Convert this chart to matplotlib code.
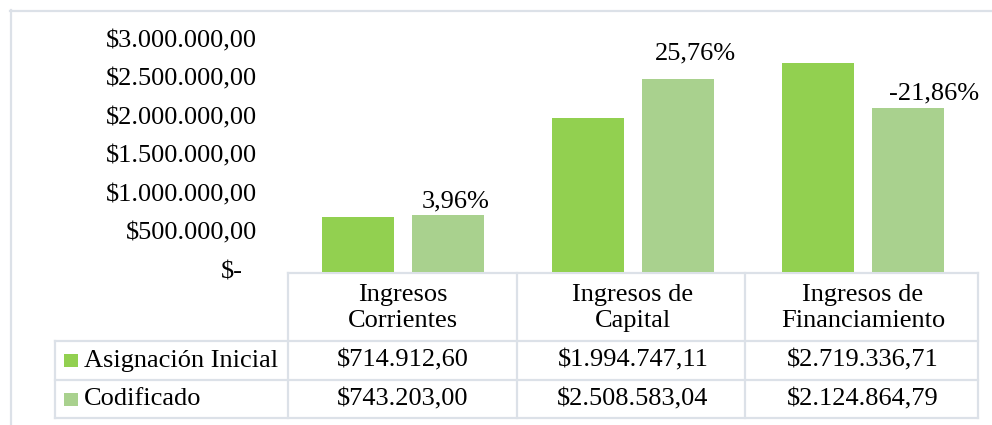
import matplotlib
matplotlib.use("Agg")
import matplotlib.pyplot as plt
import matplotlib.transforms as mtransforms
import numpy as np

# datos
categorias = ["Ingresos\nCorrientes", "Ingresos de\nCapital", "Ingresos de\nFinanciamiento"]
series = ["Asignación Inicial", "Codificado"]
asignacion_inicial = [714912.60, 1994747.11, 2719336.71]
codificado = [743203.00, 2508583.04, 2124864.79]
etiquetas_pct = ["3,96%", "25,76%", "-21,86%"]
y_ticks = [0, 500000, 1000000, 1500000, 2000000, 2500000, 3000000]

colores = ["#92D050", "#A9D18E"]
linea = "#DCE1E8"
FS = 19
W, H = 992, 425

plt.rcParams["font.family"] = ["Liberation Serif", "DejaVu Serif"]


def moneda(v):
    if v == 0:
        return "$-"
    s = f"{v:,.2f}"
    return "$" + s.replace(",", "X").replace(".", ",").replace("X", ".")


fig = plt.figure(figsize=(W / 100, H / 100), dpi=100)

# capa para tabla y marco (coordenadas en pixeles)
ax_t = fig.add_axes([0, 0, 1, 1])
ax_t.set_xlim(0, W)
ax_t.set_ylim(H, 0)
ax_t.axis("off")

# area de barras
px_l, px_r, px_top, px_bot = 288, 978, 41, 272
ax = fig.add_axes([px_l / W, (H - px_bot) / H, (px_r - px_l) / W, (px_bot - px_top) / H])
ax.set_zorder(2)
ax.patch.set_alpha(0)

x = np.arange(len(categorias))
ancho = 0.314
desp = 0.196
ax.bar(x - desp, asignacion_inicial, ancho, color=colores[0])
barras_c = ax.bar(x + desp, codificado, ancho, color=colores[1])

ax.set_xlim(-0.5, len(categorias) - 0.5)
ax.set_ylim(0, 3000000)
for s in ax.spines.values():
    s.set_visible(False)
ax.set_xticks([])
ax.set_yticks([])

# etiquetas del eje y
for v in y_ticks:
    dx = -31 if v else -45
    ax.annotate(moneda(v), xy=(0, v), xycoords=("axes fraction", "data"),
                xytext=(dx * 0.72, 0), textcoords="offset points",
                ha="right", va="center", fontsize=FS)

# etiquetas de porcentaje
offs = [(8, 7), (17, 19), (26, 9)]
for b, t, (ox, oy) in zip(barras_c, etiquetas_pct, offs):
    ax.annotate(t, xy=(b.get_x() + b.get_width() / 2, b.get_height()),
                xytext=(ox * 0.72, oy * 0.72), textcoords="offset points",
                ha="center", va="baseline", fontsize=FS)

# tabla de datos
tr = mtransforms.blended_transform_factory(ax.transData, ax_t.transData)
y_head, y_r1, y_r2, y_fin = 273, 341, 380, 418
leg_l = 55
lw = 1.6

ax_t.plot([px_l, px_r], [y_head, y_head], color=linea, lw=lw)
for yy in (y_r1, y_r2, y_fin):
    ax_t.plot([leg_l, px_r], [yy, yy], color=linea, lw=lw)
ax_t.plot([leg_l, leg_l], [y_r1, y_fin], color=linea, lw=lw)
for xx in (px_l, 517, 745, px_r):
    ax_t.plot([xx, xx], [y_head, y_fin], color=linea, lw=lw)

for i, cat in enumerate(categorias):
    ax_t.text(i, (y_head + y_r1) / 2 + 1, cat, transform=tr, ha="center", va="center",
              fontsize=FS, linespacing=1.25)
    ax_t.text(i, (y_r1 + y_r2) / 2, moneda(asignacion_inicial[i]), transform=tr,
              ha="center", va="center", fontsize=FS)
    ax_t.text(i, (y_r2 + y_fin) / 2, moneda(codificado[i]), transform=tr,
              ha="center", va="center", fontsize=FS)

# leyenda dentro de la tabla
for nombre, col, (ya, yb) in zip(series, colores, [(y_r1, y_r2), (y_r2, y_fin)]):
    yc = (ya + yb) / 2
    ax_t.add_patch(plt.Rectangle((64, yc - 6.5), 14, 13, color=col, lw=0))
    ax_t.text(84, yc, nombre, ha="left", va="center", fontsize=FS)

# marco exterior
ax_t.plot([10, W], [10.5, 10.5], color=linea, lw=lw)
ax_t.plot([10.5, 10.5], [10, H], color=linea, lw=lw)

fig.savefig("out.png", dpi=100, facecolor="white")
